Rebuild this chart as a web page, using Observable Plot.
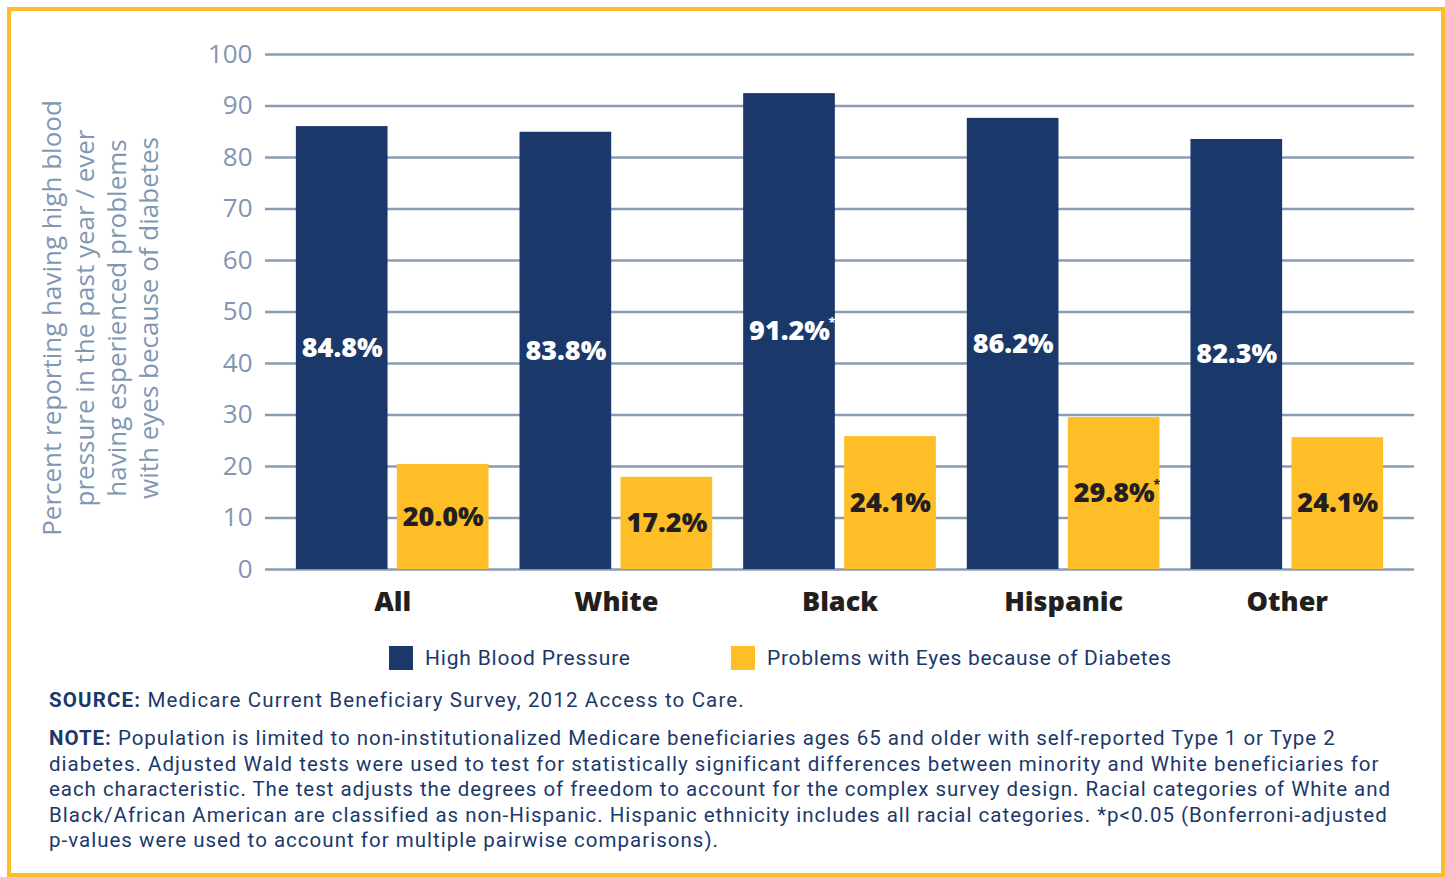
<!DOCTYPE html>
<html>
<head>
<meta charset="utf-8">
<script src="https://cdn.jsdelivr.net/npm/d3@7"></script>
<script src="https://cdn.jsdelivr.net/npm/@observablehq/plot@0.6"></script>
<style>
  html, body { margin: 0; padding: 0; background: #fff; }
  body { width: 1445px; height: 877px; position: relative; overflow: hidden; }
  .frame { position: absolute; left: 7px; top: 7px; width: 1430px; height: 862px; border: 4px solid #FDBE2B; }
  #chart { position: absolute; left: 0; top: 0; }
  .legend { position: absolute; top: 645px; left: 0; width: 1445px; height: 26px; font-family: Roboto, "Open Sans", sans-serif; font-size: 21px; color: #1B386B; }
  .legend .item { position: absolute; top: 0; display: flex; align-items: center; height: 26px; }
  .legend .sw { width: 24px; height: 24px; margin-right: 12px; flex: none; }
  .legend span { white-space: nowrap; display: inline-block; }
  .notes { position: absolute; left: 49px; top: 688px; font-family: Roboto, "Open Sans", sans-serif; font-size: 20.5px; line-height: 25.5px; color: #1B386B; white-space: nowrap; }
  .notes b { font-weight: 700; }
  .notes .line { display: inline-block; }
  .notes .note { margin-top: 12.5px; }
</style>
</head>
<body>
<div class="frame"></div>
<div id="chart"></div>
<div class="legend" id="legend"></div>
<div class="notes" id="notes"></div>
<script>
// ---- Data ----
const categories = ["All", "White", "Black", "Hispanic", "Other"];
const seriesNames = ["High Blood Pressure", "Problems with Eyes because of Diabetes"];
const seriesColors = ["#1B386B", "#FDBE27"];
// bar heights as drawn in the picture (percent)
const hbpValues = [86.0, 84.9, 92.4, 87.6, 83.5];
const eyeValues = [20.4, 17.9, 25.8, 29.5, 25.6];
// printed labels
const hbpLabels = ["84.8%", "83.8%", "91.2%", "86.2%", "82.3%"];
const eyeLabels = ["20.0%", "17.2%", "24.1%", "29.8%", "24.1%"];
const hbpSignificant = [false, false, true, false, false];
const eyeSignificant = [false, false, false, true, false];
const yTicks = [0, 10, 20, 30, 40, 50, 60, 70, 80, 90, 100];
const yLabel = "Percent reporting having high blood\npressure in the past year / ever\nhaving esperienced problems\nwith eyes because of diabetes";

const sourceText = "Medicare Current Beneficiary Survey, 2012 Access to Care.";
const noteLines = [
  "Population is limited to non-institutionalized Medicare beneficiaries ages 65 and older with self-reported Type 1 or Type 2",
  "diabetes. Adjusted Wald tests were used to test for statistically significant differences between minority and White beneficiaries for",
  "each characteristic. The test adjusts the degrees of freedom to account for the complex survey design. Racial categories of White and",
  "Black/African American are classified as non-Hispanic. Hispanic ethnicity includes all racial categories. *p<0.05 (Bonferroni-adjusted",
  "p-values were used to account for multiple pairwise comparisons)."
];

// ---- Build tables ----
const hbp = categories.map((c, i) => ({category: c, value: hbpValues[i], label: hbpLabels[i], sig: hbpSignificant[i]}));
const eye = categories.map((c, i) => ({category: c, value: eyeValues[i], label: eyeLabels[i], sig: eyeSignificant[i]}));

const W = 1445, H = 630;
const barInset = 101;   // band ~193px, each bar ~92px
const half = 50.5;      // offset from band centre to each bar centre

const valueFont = "'Open Sans', Lato, sans-serif";
const gridColor = "#8A9CB5";
const axisTextColor = "#8196B3";

const chart = Plot.plot({
  width: W,
  height: H,
  marginLeft: 265,
  marginRight: 31,
  marginTop: 54,
  marginBottom: 61,
  style: {fontFamily: "'Open Sans', sans-serif", background: "transparent", overflow: "visible"},
  x: {domain: categories, paddingInner: 0.1384, paddingOuter: 0.138, round: false, label: null},
  y: {domain: [0, 100], label: null},
  marks: [
    Plot.ruleY(yTicks, {stroke: gridColor, strokeWidth: 2.6}),
    Plot.axisY({ticks: yTicks, tickSize: 0, tickPadding: 13, fontSize: 26, fill: axisTextColor, label: null}),
    Plot.axisX({tickSize: 0, tickPadding: 22, fontSize: 27, fontWeight: 800, fill: "#231F20", label: null, fontFamily: valueFont}),
    Plot.barY(hbp, {x: "category", y: "value", fill: seriesColors[0], insetRight: barInset}),
    Plot.barY(eye, {x: "category", y: "value", fill: seriesColors[1], insetLeft: barInset}),
    Plot.text(hbp, {x: "category", y: d => d.value / 2, text: "label", fill: "#fff", fontSize: 27, fontWeight: 800, fontFamily: valueFont, dx: -half, textAnchor: "middle"}),
    Plot.text(eye, {x: "category", y: d => d.value / 2, text: "label", fill: "#231F20", fontSize: 27, fontWeight: 800, fontFamily: valueFont, dx: half, textAnchor: "middle"}),
    Plot.text(hbp.filter(d => d.sig), {x: "category", y: d => d.value / 2, text: () => "*", fill: "#fff", fontSize: 13, fontWeight: 700, fontFamily: valueFont, dx: -half + 39, dy: -9, textAnchor: "start"}),
    Plot.text(eye.filter(d => d.sig), {x: "category", y: d => d.value / 2, text: () => "*", fill: "#231F20", fontSize: 13, fontWeight: 700, fontFamily: valueFont, dx: half + 39, dy: -9, textAnchor: "start"}),
    Plot.text([yLabel], {ariaLabel: "ylabel", frameAnchor: "left", rotate: -90, dx: -166, dy: 6, fontSize: 26, lineHeight: 1.24, fill: axisTextColor, textAnchor: "middle", lineAnchor: "middle"})
  ]
});
document.getElementById("chart").appendChild(chart);
// slightly wider tracking for the rotated axis title
chart.querySelectorAll('g[aria-label="ylabel"] text').forEach(t => t.style.letterSpacing = "0.8px");

// ---- helper: fit a text element to a target width via letter spacing ----
function fitWidth(el, target) {
  const w = el.getBoundingClientRect().width;
  const n = Math.max(1, el.textContent.length - 1);
  el.style.letterSpacing = ((target - w) / n) + "px";
}

// ---- Legend ----
const legend = document.getElementById("legend");
const legendLefts = [389, 731];
const legendTextWidths = [205, 404];
seriesNames.forEach((name, i) => {
  const item = document.createElement("div");
  item.className = "item";
  item.style.left = legendLefts[i] + "px";
  const sw = document.createElement("div");
  sw.className = "sw";
  sw.style.background = seriesColors[i];
  const t = document.createElement("span");
  t.textContent = name;
  item.appendChild(sw);
  item.appendChild(t);
  legend.appendChild(item);
  fitWidth(t, legendTextWidths[i]);
});

// ---- Notes ----
const notes = document.getElementById("notes");
const src = document.createElement("div");
const srcLine = document.createElement("span");
srcLine.className = "line";
srcLine.innerHTML = "<b>SOURCE:</b> ";
srcLine.appendChild(document.createTextNode(sourceText));
src.appendChild(srcLine);
notes.appendChild(src);
fitWidth(srcLine, 694);

const noteWidths = [1285, 1328, 1341, 1337, 669];
const note = document.createElement("div");
note.className = "note";
notes.appendChild(note);
noteLines.forEach((line, i) => {
  const row = document.createElement("div");
  const l = document.createElement("span");
  l.className = "line";
  if (i === 0) l.innerHTML = "<b>NOTE:</b> ";
  l.appendChild(document.createTextNode(line));
  row.appendChild(l);
  note.appendChild(row);
  fitWidth(l, noteWidths[i]);
});
</script>
</body>
</html>
